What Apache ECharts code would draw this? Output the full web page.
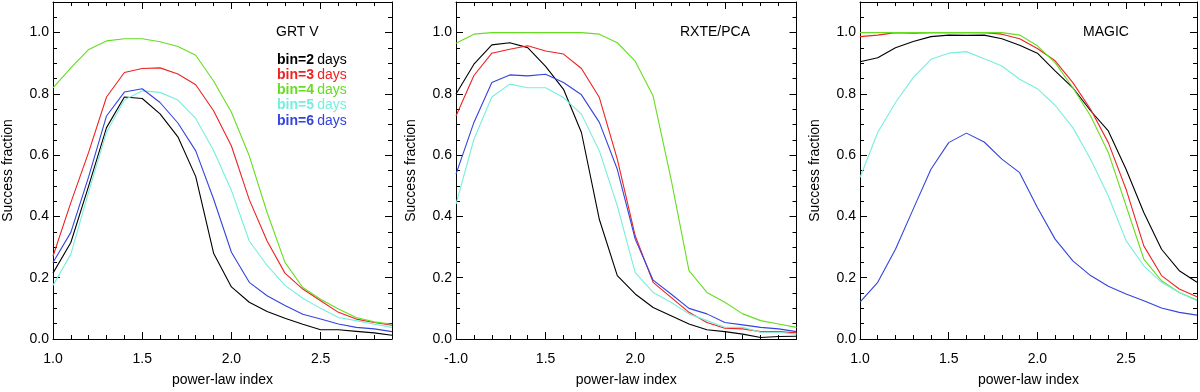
<!DOCTYPE html>
<html>
<head>
<meta charset="utf-8">
<script src="https://cdn.jsdelivr.net/npm/echarts@6/dist/echarts.min.js"></script>
<style>
html, body { margin: 0; padding: 0; background: #fff; }
#main { width: 1200px; height: 392px; }
</style>
</head>
<body>
<div id="main"></div>
<script>
// power-law index grid, shared by every panel
var xValues = [1.0, 1.1, 1.2, 1.3, 1.4, 1.5, 1.6, 1.7, 1.8, 1.9,
               2.0, 2.1, 2.2, 2.3, 2.4, 2.5, 2.6, 2.7, 2.8, 2.9];

var binNames = ['bin=2', 'bin=3', 'bin=4', 'bin=5', 'bin=6'];
var binColors = ['#000000', '#ee2222', '#66dd22', '#77eedd', '#3344dd'];
var panelTitles = ['GRT V', 'RXTE/PCA', 'MAGIC'];

var xTickValues = [1.0, 1.5, 2.0, 2.5];
var xTickLabels1 = ['1.0', '1.5', '2.0', '2.5'];
var xTickLabels2 = ['-1.0', '1.5', '2.0', '2.5'];
var xTickLabels3 = ['1.0', '1.5', '2.0', '2.5'];
var yTickValues = [0.0, 0.2, 0.4, 0.6, 0.8, 1.0];
var yTickLabels = ['0.0', '0.2', '0.4', '0.6', '0.8', '1.0'];

// GRT V
var grtvBin2 = [0.215, 0.315, 0.50, 0.69, 0.79, 0.785, 0.735, 0.66, 0.53, 0.28, 0.17, 0.12, 0.09, 0.068, 0.048, 0.03, 0.03, 0.025, 0.02, 0.012];
var grtvBin3 = [0.27, 0.445, 0.61, 0.79, 0.87, 0.883, 0.885, 0.865, 0.83, 0.745, 0.63, 0.455, 0.32, 0.215, 0.163, 0.125, 0.087, 0.065, 0.054, 0.045];
var grtvBin4 = [0.82, 0.885, 0.945, 0.973, 0.98, 0.98, 0.97, 0.955, 0.926, 0.842, 0.74, 0.598, 0.413, 0.25, 0.168, 0.13, 0.098, 0.07, 0.056, 0.048];
var grtvBin5 = [0.175, 0.277, 0.48, 0.675, 0.78, 0.81, 0.805, 0.78, 0.72, 0.615, 0.485, 0.32, 0.24, 0.175, 0.133, 0.1, 0.07, 0.06, 0.048, 0.038];
var grtvBin6 = [0.25, 0.348, 0.53, 0.728, 0.806, 0.817, 0.772, 0.705, 0.614, 0.457, 0.283, 0.185, 0.141, 0.109, 0.081, 0.065, 0.049, 0.038, 0.033, 0.024];

// RXTE/PCA
var rxteBin2 = [0.80, 0.897, 0.96, 0.967, 0.951, 0.89, 0.815, 0.674, 0.39, 0.207, 0.147, 0.103, 0.076, 0.049, 0.03, 0.024, 0.016, 0.005, 0.008, 0.009];
var rxteBin3 = [0.728, 0.86, 0.933, 0.946, 0.957, 0.94, 0.93, 0.883, 0.788, 0.587, 0.337, 0.185, 0.136, 0.087, 0.054, 0.035, 0.033, 0.024, 0.024, 0.02];
var rxteBin4 = [0.965, 0.995, 1.0, 1.0, 1.0, 1.0, 1.0, 1.0, 0.995, 0.967, 0.907, 0.793, 0.522, 0.223, 0.152, 0.12, 0.082, 0.06, 0.049, 0.038];
var rxteBin5 = [0.44, 0.652, 0.79, 0.832, 0.82, 0.82, 0.788, 0.734, 0.614, 0.435, 0.217, 0.152, 0.12, 0.082, 0.06, 0.038, 0.038, 0.022, 0.022, 0.016];
var rxteBin6 = [0.538, 0.707, 0.837, 0.862, 0.859, 0.864, 0.837, 0.797, 0.707, 0.554, 0.326, 0.192, 0.147, 0.1, 0.082, 0.054, 0.046, 0.038, 0.033, 0.024];

// MAGIC
var magicBin2 = [0.905, 0.918, 0.951, 0.971, 0.987, 0.992, 0.991, 0.992, 0.98, 0.959, 0.933, 0.875, 0.82, 0.745, 0.679, 0.554, 0.413, 0.293, 0.223, 0.185];
var magicBin3 = [0.987, 0.992, 1.0, 0.998, 1.0, 1.0, 1.0, 1.0, 0.995, 0.98, 0.948, 0.908, 0.837, 0.75, 0.641, 0.489, 0.304, 0.207, 0.163, 0.138];
var magicBin4 = [1.0, 1.0, 1.0, 1.0, 1.0, 1.0, 1.0, 1.0, 1.0, 0.992, 0.957, 0.902, 0.82, 0.728, 0.609, 0.435, 0.261, 0.19, 0.152, 0.127];
var magicBin5 = [0.527, 0.674, 0.772, 0.853, 0.913, 0.933, 0.938, 0.915, 0.891, 0.848, 0.817, 0.763, 0.69, 0.587, 0.467, 0.321, 0.239, 0.185, 0.152, 0.125];
var magicBin6 = [0.12, 0.185, 0.293, 0.424, 0.554, 0.641, 0.672, 0.643, 0.587, 0.543, 0.429, 0.326, 0.255, 0.207, 0.172, 0.147, 0.125, 0.101, 0.087, 0.078];

var panelData = [
    [grtvBin2, grtvBin3, grtvBin4, grtvBin5, grtvBin6],
    [rxteBin2, rxteBin3, rxteBin4, rxteBin5, rxteBin6],
    [magicBin2, magicBin3, magicBin4, magicBin5, magicBin6]
];
var panelXLabels = [xTickLabels1, xTickLabels2, xTickLabels3];

var FONT = '"Liberation Sans", Arial, Helvetica, sans-serif';
var panelLeft = [52.5, 456, 860];
var panelWidth = [339.5, 340.5, 339];
var plotTop = 2, plotHeight = 338;

function lookup(values, labels) {
    return function (v) {
        for (var k = 0; k < values.length; k++) {
            if (Math.abs(values[k] - v) < 1e-6) return labels[k];
        }
        return '';
    };
}

var grids = [], xAxes = [], yAxes = [], series = [], graphics = [];

for (var i = 0; i < 3; i++) {
    grids.push({left: panelLeft[i], top: plotTop, width: panelWidth[i], height: plotHeight});

    // x: bottom major, bottom minor, top major, top minor
    var xCommon = {gridIndex: i, type: 'value', min: 1.0, max: 2.9, splitLine: {show: false}};
    xAxes.push(Object.assign({}, xCommon, {
        position: 'bottom', interval: 0.5,
        axisLine: {show: true, onZero: false, lineStyle: {color: '#000', width: 1}},
        axisTick: {show: true, inside: true, length: 7, lineStyle: {color: '#000'}},
        axisLabel: {show: true, margin: 13, fontSize: 14, color: '#000', fontFamily: FONT,
            formatter: lookup(xTickValues, panelXLabels[i])},
        name: 'power-law index', nameLocation: 'middle', nameGap: 34,
        nameTextStyle: {fontSize: 14, color: '#000', fontFamily: FONT}
    }));
    xAxes.push(Object.assign({}, xCommon, {
        position: 'bottom', interval: 0.1,
        axisLine: {show: false, onZero: false},
        axisTick: {show: true, inside: true, length: 4, lineStyle: {color: '#000'}},
        axisLabel: {show: false}
    }));
    xAxes.push(Object.assign({}, xCommon, {
        position: 'top', interval: 0.5,
        axisLine: {show: true, onZero: false, lineStyle: {color: '#000', width: 1}},
        axisTick: {show: true, inside: true, length: 7, lineStyle: {color: '#000'}},
        axisLabel: {show: false}
    }));
    xAxes.push(Object.assign({}, xCommon, {
        position: 'top', interval: 0.1,
        axisLine: {show: false, onZero: false},
        axisTick: {show: true, inside: true, length: 4, lineStyle: {color: '#000'}},
        axisLabel: {show: false}
    }));

    // y: left major, left minor, right major, right minor
    var yCommon = {gridIndex: i, type: 'value', min: 0, max: 1.1, splitLine: {show: false}};
    yAxes.push(Object.assign({}, yCommon, {
        position: 'left', interval: 0.2,
        axisLine: {show: true, onZero: false, lineStyle: {color: '#000', width: 1}},
        axisTick: {show: true, inside: true, length: 7, lineStyle: {color: '#000'}},
        axisLabel: {show: true, margin: 4, fontSize: 14, color: '#000', fontFamily: FONT,
            formatter: lookup(yTickValues, yTickLabels)},
        name: 'Success fraction', nameLocation: 'middle', nameRotate: 90, nameGap: 38,
        nameTextStyle: {fontSize: 14, color: '#000', fontFamily: FONT}
    }));
    yAxes.push(Object.assign({}, yCommon, {
        position: 'left', interval: 0.05,
        axisLine: {show: false, onZero: false},
        axisTick: {show: true, inside: true, length: 4, lineStyle: {color: '#000'}},
        axisLabel: {show: false}
    }));
    yAxes.push(Object.assign({}, yCommon, {
        position: 'right', interval: 0.2,
        axisLine: {show: true, onZero: false, lineStyle: {color: '#000', width: 1}},
        axisTick: {show: true, inside: true, length: 7, lineStyle: {color: '#000'}},
        axisLabel: {show: false}
    }));
    yAxes.push(Object.assign({}, yCommon, {
        position: 'right', interval: 0.05,
        axisLine: {show: false, onZero: false},
        axisTick: {show: true, inside: true, length: 4, lineStyle: {color: '#000'}},
        axisLabel: {show: false}
    }));

    for (var b = 0; b < binNames.length; b++) {
        var arr = panelData[i][b];
        series.push({
            name: binNames[b],
            type: 'line',
            xAxisIndex: i * 4,
            yAxisIndex: i * 4,
            data: xValues.map(function (x, j) { return [x, arr[j]]; }),
            showSymbol: false,
            silent: true,
            lineStyle: {color: binColors[b], width: 1.1},
            itemStyle: {color: binColors[b]}
        });
    }
}

var titleLeft = [276, 680, 1083];
for (var t = 0; t < panelTitles.length; t++) {
    graphics.push({
        type: 'text', left: titleLeft[t], top: 25,
        style: {text: panelTitles[t], fontSize: 14, fill: '#000', fontFamily: FONT}
    });
}
for (var l = 0; l < binNames.length; l++) {
    graphics.push({
        type: 'text', left: 277, top: 53 + l * 15.2,
        style: {
            text: '{b|' + binNames[l] + '} {d|days}',
            rich: {
                b: {fontSize: 14, fontWeight: 'bold', fill: binColors[l], fontFamily: FONT},
                d: {fontSize: 14, fill: binColors[l], fontFamily: FONT}
            }
        }
    });
}

var chart = echarts.init(document.getElementById('main'));
chart.setOption({
    animation: false,
    backgroundColor: '#fff',
    grid: grids,
    xAxis: xAxes,
    yAxis: yAxes,
    series: series,
    graphic: graphics
});
</script>
</body>
</html>
